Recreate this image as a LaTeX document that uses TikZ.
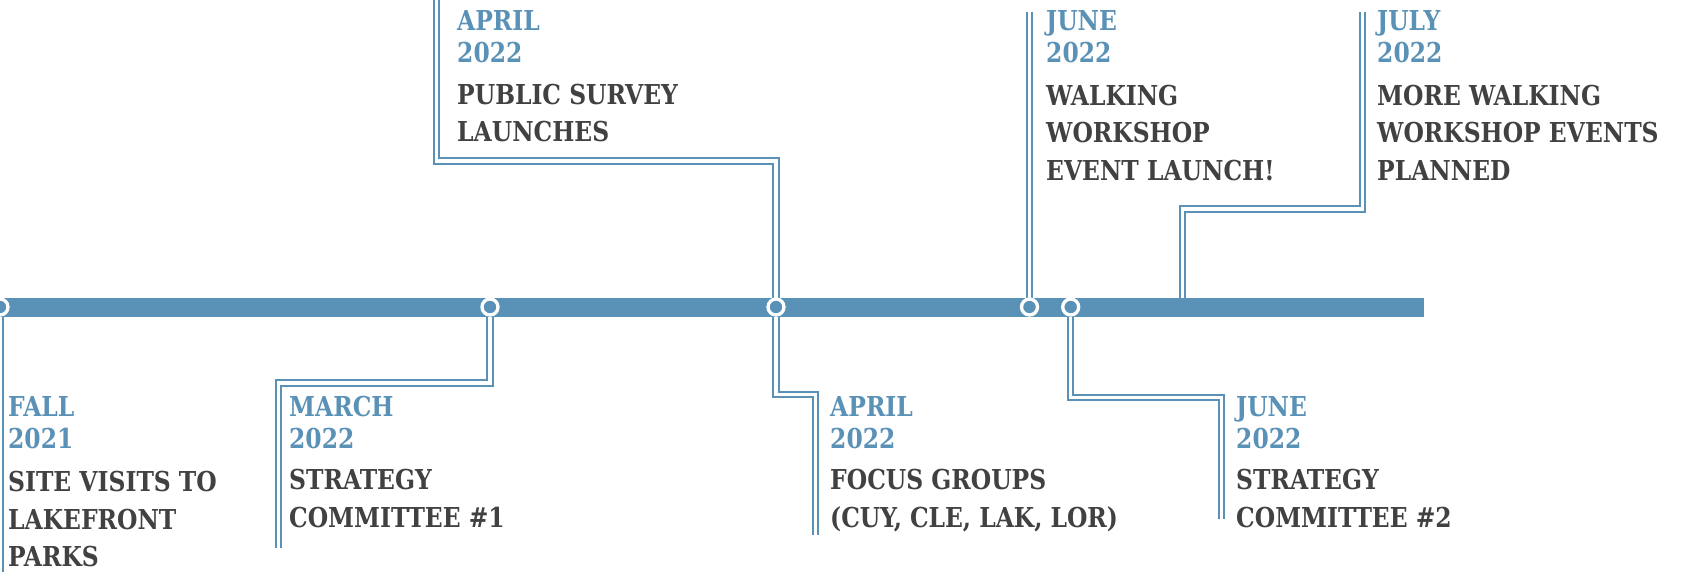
\documentclass[tikz,border=0pt]{standalone}
\usepackage{fontspec}
\newfontfamily\slab{DejaVu Serif Condensed Bold}[FakeStretch=0.95]
\definecolor{tblue}{HTML}{5A91B7}
\definecolor{tdark}{HTML}{414042}
\begin{document}
\begin{tikzpicture}[x=1pt,y=-1pt,
  conn/.style={draw=tblue, line width=2pt, double=white, double distance=3.3pt},
  dot/.style={circle, fill=tblue, draw=white, line width=3.3pt, minimum size=16pt, inner sep=0pt},
  datetxt/.style={anchor=base west, inner sep=0pt, align=left, text=tblue, font=\slab\fontsize{27.4}{32}\selectfont},
  desctxt/.style={anchor=base west, inner sep=0pt, align=left, text=tdark, font=\slab\fontsize{27.4}{37.4}\selectfont}]
\useasboundingbox (0,0) rectangle (1688,571);
% anchors on the bar
\coordinate (p1) at (0,307);
\coordinate (p2) at (490,307);
\coordinate (p3) at (776,307);
\coordinate (p4) at (1029.5,307);
\coordinate (p5) at (1070.7,307);
\coordinate (p7) at (1182.7,307);
% bends and ends
\coordinate (e1) at (0,580);
\coordinate (k2) at (278.3,383);   \coordinate (e2) at (278.3,548);
\coordinate (k3) at (436.2,161);   \coordinate (e3) at (436.2,-5);
\coordinate (k4) at (815.5,394.7); \coordinate (e4) at (815.5,535);
\coordinate (e5) at (1029.5,11.7);
\coordinate (k6) at (1221.2,397.3);\coordinate (e6) at (1221.2,519.3);
\coordinate (k7) at (1362.3,209);  \coordinate (e7) at (1362.3,11.7);
% connectors
\draw[conn] (p1) -- (e1);
\draw[conn] (p2) |- (k2) -- (e2);
\draw[conn] (p3) |- (k3) -- (e3);
\draw[conn] (p3) |- (k4) -- (e4);
\draw[conn] (p4) -- (e5);
\draw[conn] (p5) |- (k6) -- (e6);
\draw[conn] (p7) |- (k7) -- (e7);
% bar
\fill[tblue] (-2,298) rectangle (1424,317);
% dots
\node[dot] (d1) at (p1) {};
\node[dot] (d2) at (p2) {};
\node[dot] (d3) at (p3) {};
\node[dot] (d4) at (p4) {};
\node[dot] (d5) at (p5) {};
% texts (anchor = baseline of the last line)
\node[datetxt] (t1) at (8,448) {FALL\\2021};
\node[desctxt] (s1) at (8,566.5) {SITE VISITS TO\\LAKEFRONT\\PARKS};
\node[datetxt] (t2) at (289,448) {MARCH\\2022};
\node[desctxt] (s2) at (289,527) {STRATEGY\\COMMITTEE \#1};
\node[datetxt] (t3) at (457,62) {APRIL\\2022};
\node[desctxt] (s3) at (457,141.7) {PUBLIC SURVEY\\LAUNCHES};
\node[datetxt] (t4) at (830,448) {APRIL\\2022};
\node[desctxt] (s4) at (830,527) {FOCUS GROUPS\\(CUY, CLE, LAK, LOR)};
\node[datetxt] (t5) at (1046,62) {JUNE\\2022};
\node[desctxt] (s5) at (1046,180) {WALKING\\WORKSHOP\\EVENT LAUNCH!};
\node[datetxt] (t6) at (1236,448) {JUNE\\2022};
\node[desctxt] (s6) at (1236,527) {STRATEGY\\COMMITTEE \#2};
\node[datetxt] (t7) at (1377,62) {JULY\\2022};
\node[desctxt] (s7) at (1377,180) {MORE WALKING\\WORKSHOP EVENTS\\PLANNED};
\end{tikzpicture}
\end{document}
